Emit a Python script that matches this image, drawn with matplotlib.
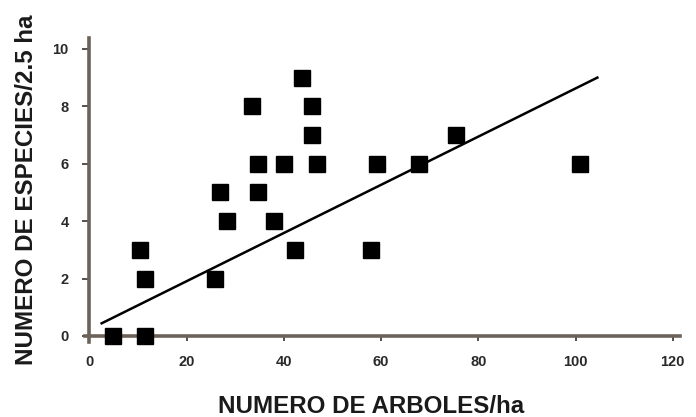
import numpy as np
import matplotlib
matplotlib.use("Agg")
import matplotlib.pyplot as plt
from matplotlib import ticker

# --- Data ---
arboles_ha = [4.8, 11.4, 10.4, 11.4, 25.8, 26.9, 28.2, 33.5, 34.7, 34.7, 38.0,
              40.0, 42.3, 43.7, 45.8, 45.8, 46.9, 57.9, 59.1, 67.9, 75.5, 100.9]
especies = [0, 0, 3, 2, 2, 5, 4, 8, 6, 5, 4,
            6, 3, 9, 8, 7, 6, 3, 6, 6, 7, 6]

# trend line as drawn in the original (ends)
trend_x = [2.5, 104.5]
trend_y = [0.44, 9.0]

x_ticks = [0, 20, 40, 60, 80, 100, 120]
y_ticks = [0, 2, 4, 6, 8, 10]

x_label = "NUMERO DE ARBOLES/ha"
y_label = "NUMERO DE ESPECIES/2.5 ha"

AXIS_COLOR = "#6b635a"
TEXT_COLOR = "#1a1a1a"


def plot_scatter(output_path: str) -> None:
    plt.rcParams["font.family"] = ["Liberation Sans", "DejaVu Sans"]

    fig = plt.figure(figsize=(6.96, 4.17), dpi=100)
    ax = fig.add_axes([0.1216, 0.1806, 0.8554, 0.7283])

    ax.plot(trend_x, trend_y, color="black", linewidth=1.8, zorder=2)
    ax.plot(arboles_ha, especies, linestyle="none", marker="s", markersize=12,
            color="black", clip_on=False, zorder=3)

    ax.set_xlim(-1, 121.5)
    ax.set_ylim(-0.2, 10.38)
    ax.xaxis.set_major_locator(ticker.FixedLocator(x_ticks))
    ax.yaxis.set_major_locator(ticker.FixedLocator(y_ticks))

    # axes cross at the origin, no box
    for side in ("top", "right"):
        ax.spines[side].set_visible(False)
    for side in ("left", "bottom"):
        ax.spines[side].set_position(("data", 0))
        ax.spines[side].set_color(AXIS_COLOR)
        ax.spines[side].set_linewidth(2.6)

    ax.tick_params(axis="y", direction="out", length=5, width=1.2,
                   color="#333333", pad=10, labelsize=10.5, labelcolor="#2a2a2a")
    ax.tick_params(axis="x", direction="out", length=3.5, width=1.2,
                   color="#333333", pad=10, labelsize=10.5, labelcolor="#2a2a2a")
    for lbl in ax.get_xticklabels() + ax.get_yticklabels():
        lbl.set_fontweight("bold")

    ax.set_xlabel(x_label, fontsize=17.4, fontweight="bold", color=TEXT_COLOR)
    ax.xaxis.label.set(va="baseline")
    ax.xaxis.set_label_coords(0.482, -0.2345)

    ax.set_ylabel(y_label, fontsize=17.4, fontweight="bold", color=TEXT_COLOR)
    ax.yaxis.label.set(rotation_mode="anchor", va="baseline", ha="center")
    ax.yaxis.set_label_coords(-0.0867, 0.4995)

    fig.savefig(output_path, dpi=100, facecolor="white")
    plt.close(fig)


def main():
    plot_scatter("out.png")


if __name__ == "__main__":
    main()
